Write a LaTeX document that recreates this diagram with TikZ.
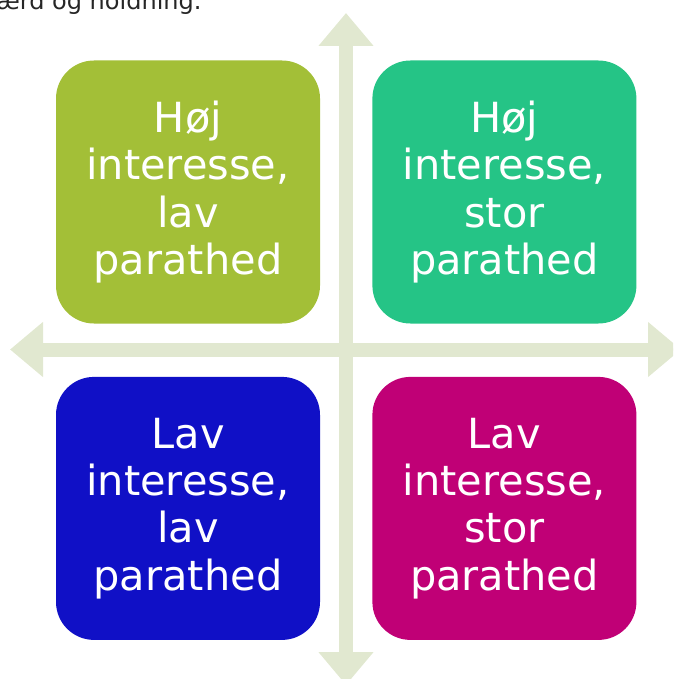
\documentclass[tikz,border=0pt]{standalone}
\usepackage{fontspec}
\setmainfont{DejaVu Sans}
\usetikzlibrary{arrows.meta,positioning}

\definecolor{hojlav}{RGB}{163,191,55}
\definecolor{hojstor}{RGB}{37,196,134}
\definecolor{lavlav}{RGB}{16,16,198}
\definecolor{lavstor}{RGB}{192,0,118}
\definecolor{axisgreen}{RGB}{225,232,208}

\begin{document}
\begin{tikzpicture}[
    x=1pt, y=-1pt,
    quad/.style={rounded corners=38pt, minimum width=264pt, minimum height=263pt,
        inner sep=0pt, text=white, align=center,
        font=\fontsize{41.5}{47.3}\selectfont},
    axis/.style={axisgreen, line width=14pt,
        {Triangle[width=53pt,length=33pt]}-{Triangle[width=53pt,length=33pt]}},
 ]
    \useasboundingbox[clip] (0,0) rectangle (673,679);

    % the cross behind the four boxes
    \coordinate (N) at (346,13);
    \coordinate (S) at (346,685);
    \coordinate (W) at (10,349.5);
    \coordinate (E) at (681,349.5);
    \draw[axis] (S) -- (N);
    \draw[axis] (W) -- (E);

    \node[anchor=base east, text=black!85, font=\fontsize{24}{28}\selectfont]
        (line) at (205,10) {ærd og holdning.};

    \node[quad, fill=hojlav] (HL) at (188,192) {Høj\\interesse,\\lav\\parathed};
    \node[quad, fill=hojstor, right=52pt of HL] (HS) {Høj\\interesse,\\stor\\parathed};
    \node[quad, fill=lavlav, below=53pt of HL] (LL) {Lav\\interesse,\\lav\\parathed};
    \node[quad, fill=lavstor, right=52pt of LL] (LS) {Lav\\interesse,\\stor\\parathed};

\end{tikzpicture}
\end{document}
